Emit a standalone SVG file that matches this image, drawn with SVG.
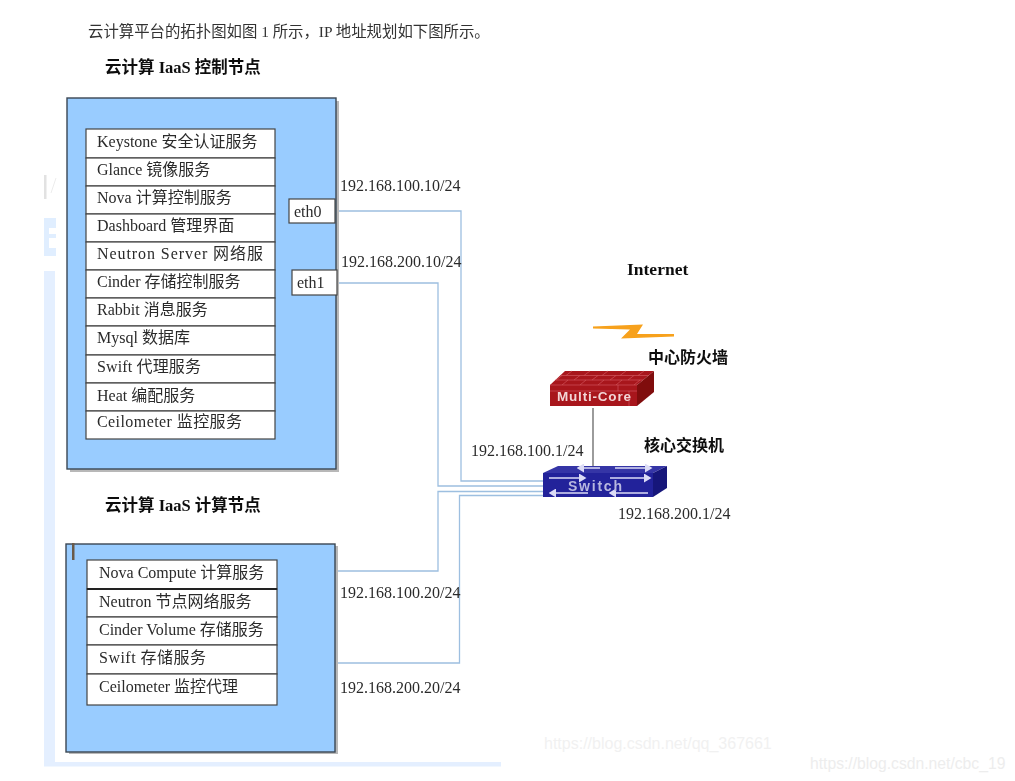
<svg xmlns="http://www.w3.org/2000/svg" width="1015" height="781" viewBox="0 0 1015 781">
<style>
text{font-family:"Liberation Serif","Noto Sans CJK SC",serif;fill:#2b2b2b}
.row{font-size:16px}
.ip{font-size:16px}
.head{font-size:16.500px;font-weight:700;fill:#111}
.panel{fill:#99ccff;stroke:#3a4653;stroke-width:1.4}
.shadow{fill:#b8b8b8}
.cell{fill:#fff;stroke:#444;stroke-width:1.2}
.wire{fill:none;stroke:#9dbfe0;stroke-width:1.3}
.wm{font-family:"Liberation Sans",sans-serif;font-size:16px;fill:#f1f1f1}
.arrow{fill:none;stroke:#dcdcf6;stroke-width:1.5}
.brick{fill:none;stroke:#d0565c;stroke-width:0.7}
</style>
<defs>
<filter id="soft" x="-2%" y="-2%" width="104%" height="104%"><feGaussianBlur stdDeviation="0.4"/></filter>
<marker id="head" markerWidth="5" markerHeight="6" refX="4" refY="3" orient="auto-start-reverse"><path d="M0 0L5 3L0 6Z" fill="#dcdcf6"/></marker>
</defs>
<rect width="1015" height="781" fill="#fff"/>
<g filter="url(#soft)">
<g id="page-background">
<rect x="44" y="175" width="2.500" height="24" fill="#e2e2e2"/>
<path d="M51 193L56 178" stroke="#ececec" stroke-width="1" fill="none"/>
<path d="M44 218H56V228H49V234H56V238H49V248H56V256H44Z" fill="#e0eeff"/>
<rect x="44" y="271" width="11" height="495" fill="#e4efff"/>
<rect x="44" y="762" width="457" height="4.500" fill="#e4efff"/>
</g>
<g id="connectors">
<polyline class="wire" points="336,211 461,211 461,481 543,481"/>
<polyline class="wire" points="337,283 438,283 438,486 543,486"/>
<polyline class="wire" points="336,571 438,571 438,491.500 543,491.500"/>
<polyline class="wire" points="336,663 459.500,663 459.500,495.500 543,495.500"/>
<line x1="593" y1="408" x2="593" y2="467" stroke="#666" stroke-width="1.300"/>
</g>
<text x="88" y="37" style="font-size:15.400px;fill:#333">云计算平台的拓扑图如图 1 所示，IP 地址规划如下图所示。</text>
<g id="control-node">
<text class="head" x="105" y="73">云计算 IaaS 控制节点</text>
<rect class="shadow" x="70" y="101" width="269" height="371"/>
<rect class="panel" x="67" y="98" width="269" height="371"/>
<g id="control-services">
<rect class="cell" x="86" y="129" width="189" height="29"/><text class="row" x="97" y="147">Keystone 安全认证服务</text>
<rect class="cell" x="86" y="158" width="189" height="28"/><text class="row" x="97" y="175">Glance 镜像服务</text>
<rect class="cell" x="86" y="186" width="189" height="28"/><text class="row" x="97" y="203">Nova 计算控制服务</text>
<rect class="cell" x="86" y="214" width="189" height="28"/><text class="row" x="97" y="231">Dashboard 管理界面</text>
<rect class="cell" x="86" y="242" width="189" height="28"/><text class="row" x="97" y="259" textLength="166">Neutron Server 网络服</text>
<rect class="cell" x="86" y="270" width="189" height="28"/><text class="row" x="97" y="287">Cinder 存储控制服务</text>
<rect class="cell" x="86" y="298" width="189" height="28"/><text class="row" x="97" y="315">Rabbit 消息服务</text>
<rect class="cell" x="86" y="326" width="189" height="29"/><text class="row" x="97" y="343">Mysql 数据库</text>
<rect class="cell" x="86" y="355" width="189" height="28"/><text class="row" x="97" y="372" textLength="104">Swift 代理服务</text>
<rect class="cell" x="86" y="383" width="189" height="28"/><text class="row" x="97" y="401">Heat 编配服务</text>
<rect class="cell" x="86" y="411" width="189" height="28"/><text class="row" x="97" y="427" textLength="145">Ceilometer 监控服务</text>
</g>
<g id="eth0"><rect class="cell" x="289" y="199" width="46" height="24"/><text class="row" x="294" y="217">eth0</text></g>
<g id="eth1"><rect class="cell" x="292" y="270" width="45" height="25"/><text class="row" x="297" y="288">eth1</text></g>
</g>
<g id="compute-node">
<text class="head" x="105" y="511">云计算 IaaS 计算节点</text>
<rect class="shadow" x="69" y="546" width="269" height="208"/>
<rect class="panel" x="66" y="544" width="269" height="208"/>
<rect x="72" y="543" width="2.500" height="17" fill="#6b5a4a"/>
<g id="compute-services">
<rect class="cell" x="87" y="560" width="190" height="29"/><text class="row" x="99" y="578">Nova Compute 计算服务</text>
<rect class="cell" x="87" y="589" width="190" height="28"/><text class="row" x="99" y="607">Neutron 节点网络服务</text>
<rect class="cell" x="87" y="617" width="190" height="28"/><text class="row" x="99" y="635">Cinder Volume 存储服务</text>
<rect class="cell" x="87" y="645" width="190" height="29"/><text class="row" x="99" y="663" textLength="107">Swift 存储服务</text>
<rect class="cell" x="87" y="674" width="190" height="31"/><text class="row" x="99" y="692">Ceilometer 监控代理</text>
<line x1="87" y1="589" x2="277" y2="589" stroke="#222" stroke-width="2"/>
</g>
</g>
<g id="ip-labels">
<text class="ip" x="340" y="191">192.168.100.10/24</text>
<text class="ip" x="341" y="267">192.168.200.10/24</text>
<text class="ip" x="340" y="598">192.168.100.20/24</text>
<text class="ip" x="340" y="693">192.168.200.20/24</text>
<text class="ip" x="471" y="456">192.168.100.1/24</text>
<text class="ip" x="618" y="519">192.168.200.1/24</text>
</g>
<g id="internet">
<text x="627" y="275" style="font-size:17.500px;font-weight:700;fill:#111">Internet</text>
<polygon points="593,326.500 643,324.500 637,334 674,334 674,336.500 621,338.500 630,329.500 593,328.500" fill="#f7a11a"/>
</g>
<g id="firewall">
<text x="648" y="363" style="font-size:16px;font-weight:700;fill:#111">中心防火墙</text>
<polygon points="550,385 565,371 654,371 637,385" fill="#a8141c"/>
<rect x="550" y="385" width="87" height="21" fill="#a8121a"/>
<polygon points="637,385 654,371 654,392 637,406" fill="#800a0e"/>
<path class="brick" d="M555.500 380H643M560.500 375.500H649M550 385H637M550 391H637M572 371L566 375.500M590 371L584 375.500M608 371L602 375.500M626 371L620 375.500M644 371L638 375.500M562 375.500L556 380M580 375.500L574 380M598 375.500L592 380M616 375.500L610 380M634 375.500L628 380M568 380L562 385M586 380L580 385M604 380L598 385M622 380L616 385M640 380L634 385M618 385V391M629 391V406"/>
<text x="557" y="401" textLength="74" style="font-family:'Liberation Sans',sans-serif;font-size:13.500px;font-weight:700;fill:#f2d6d6">Multi-Core</text>
</g>
<g id="switch">
<text x="644" y="451" style="font-size:16px;font-weight:700;fill:#111">核心交换机</text>
<polygon points="543,473 558,466 667,466 653,473" fill="#3434a6"/>
<rect x="543" y="473" width="110" height="24" fill="#20209a"/>
<polygon points="653,473 667,466 667,488 653,497" fill="#16167a"/>
<path class="arrow" marker-end="url(#head)" d="M549 478H585"/>
<path class="arrow" marker-end="url(#head)" d="M610 478H650"/>
<path class="arrow" marker-end="url(#head)" d="M588 493H550"/>
<path class="arrow" marker-end="url(#head)" d="M648 493H610"/>
<path class="arrow" marker-end="url(#head)" d="M600 468H578"/>
<path class="arrow" marker-end="url(#head)" d="M615 468H651"/>
<text x="568" y="491" textLength="54" style="font-family:'Liberation Sans',sans-serif;font-size:14px;font-weight:700;fill:#b8b8e0">Switch</text>
</g>
</g>
<g id="watermarks">
<text class="wm" x="544" y="749">https://blog.csdn.net/qq_367661</text>
<text class="wm" x="810" y="769" style="font-size:15.700px;fill:#ededed">https://blog.csdn.net/cbc_19</text>
</g>
</svg>
